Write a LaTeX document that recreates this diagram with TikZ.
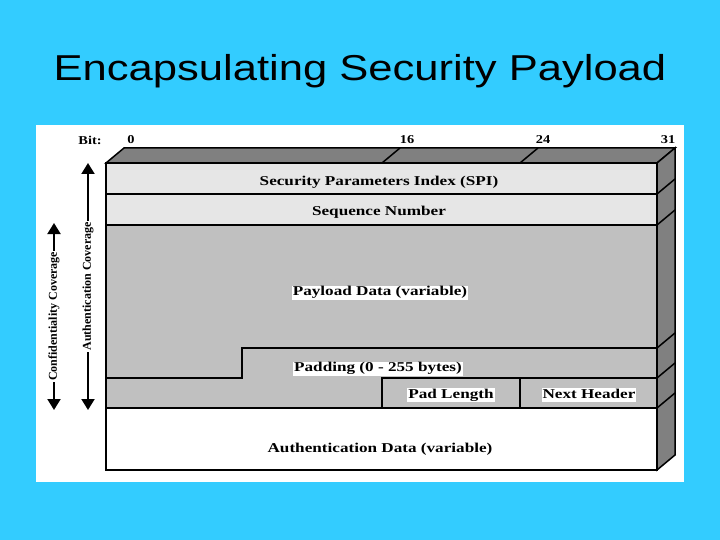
\documentclass[tikz,border=0pt]{standalone}
\usepackage{fontspec}
\setmainfont{Liberation Serif}
\newfontfamily\titlefont{Liberation Sans}
\usetikzlibrary{positioning, arrows.meta}

\definecolor{slidebg}{RGB}{51,204,255}
\definecolor{facedark}{RGB}{128,128,128}
\definecolor{rowlight}{RGB}{230,230,230}
\definecolor{rowmid}{RGB}{192,192,192}

% the slide text is drawn wider than the font
\newcommand{\widetext}[2][1.27]{\scalebox{#1}[1]{#2}}

\begin{document}
\begin{tikzpicture}
[
    x=1pt, y=-1pt, line width=1.5pt,
    % Coordinates are slide pixels, y grows downwards.
    % Fields are named after the header part: spi, seq, auth, padlen, nexthdr
    % The box has a depth of 18 to the right and 15 upwards
]

%=================================== Start ===================================
\tikzstyle{field}   = [draw, inner sep=0pt, outer sep=0pt, anchor=north west]
\tikzstyle{txt}     = [inner sep=1pt, text height=9pt, text depth=3pt,
                       font=\bfseries\fontsize{13.5}{14}\selectfont]
\tikzstyle{lbl}     = [txt, fill=white]
\tikzstyle{bit}     = [font=\bfseries\fontsize{12}{12}\selectfont]
\tikzstyle{cov}     = [line width=2pt,
                       {Triangle[width=13pt,length=11pt]}-{Triangle[width=13pt,length=11pt]}]
\tikzstyle{covtext} = [fill=white, rotate=90, inner sep=1pt,
                       font=\bfseries\fontsize{12}{12}\selectfont]

\useasboundingbox (0,0) rectangle (720,540);
\fill[slidebg] (0,0) rectangle (720,540);
\fill[white] (36,125) rectangle (684,482);

\node[font=\titlefont\fontsize{36}{40}\selectfont] (title) at (360,71)
     {\widetext[1.21]{Encapsulating Security Payload}};

% corners of the box
\coordinate (fl)  at (106,163);
\coordinate (fr)  at (657,163);
\coordinate (bl)  at (124,148);
\coordinate (br)  at (675,148);
\coordinate (frb) at (657,470);
\coordinate (brb) at (675,455);

{
    % Top and side faces
    \filldraw[fill=facedark] (fl) -- (bl) -- (br) -- (fr) -- cycle;
    \filldraw[fill=facedark] (fr) -- (br) -- (brb) -- (frb) -- cycle;

    % Bit positions
    \node[bit] (bit) at (90,140) {\widetext[1.2]{Bit:}};
    \foreach \b / \x in {0/131, 16/407, 24/543, 31/668}
        \node[bit] (bit-\b) at (\x,140) {\widetext[1.2]{\b}};
    \foreach \x in {382, 520}
        \draw (\x,163) -- ++(18,-15);

    % Rows of the header
    \node[field, fill=rowlight, minimum width=551pt, minimum height=31pt]
          (spi) at (fl) {};
    \node[field, fill=rowlight, minimum width=551pt, minimum height=31pt,
          below=0pt of spi] (seq) {};
    \filldraw[fill=rowmid] (seq.south west) rectangle (657,408);
    \node[field, fill=white, minimum width=551pt, minimum height=62pt]
          (auth) at (106,408) {};

    % Padding step
    \coordinate (step-l) at (106,378);
    \coordinate (step-r) at (657,348);
    \draw (step-l) -| (242,348) -- (step-r);
    \node[field, fill=rowmid, minimum width=138pt, minimum height=30pt]
          (padlen) at (382,378) {};
    \node[field, fill=rowmid, minimum width=137pt, minimum height=30pt]
          (nexthdr) at (padlen.north east) {};

    % Field names
    \node[txt] (spi-lbl)     at (379,183)   {\widetext{Security Parameters Index (SPI)}};
    \node[txt] (seq-lbl)     at (379,212.5) {\widetext{Sequence Number}};
    \node[lbl] (payload-lbl) at (380,292.5) {\widetext{Payload Data (variable)}};
    \node[lbl] (padding-lbl) at (378,368.5) {\widetext{Padding (0 - 255 bytes)}};
    \node[lbl] (padlen-lbl)  at (451,395)   {\widetext{Pad Length}};
    \node[lbl] (nexthdr-lbl) at (589,395)   {\widetext{Next Header}};
    \node[txt] (auth-lbl)    at (380,449)   {\widetext{Authentication Data (variable)}};

    % Edges on the side face
    \foreach \y in {194, 225, 348, 378, 408}
        \draw (657,\y) -- ++(18,-15);

    % Coverage arrows
    \coordinate (conf-top) at (54,223);
    \coordinate (conf-bot) at (54,410);
    \coordinate (auth-top) at (88,163);
    \coordinate (auth-bot) at (88,410);
    \draw[cov] (conf-top) -- (conf-bot)
        node[midway, covtext] (conf) {Confidentiality Coverage};
    \draw[cov] (auth-top) -- (auth-bot)
        node[midway, covtext] (authcov) {Authentication Coverage};
}
%==================================== END ====================================

\end{tikzpicture}
\end{document}
